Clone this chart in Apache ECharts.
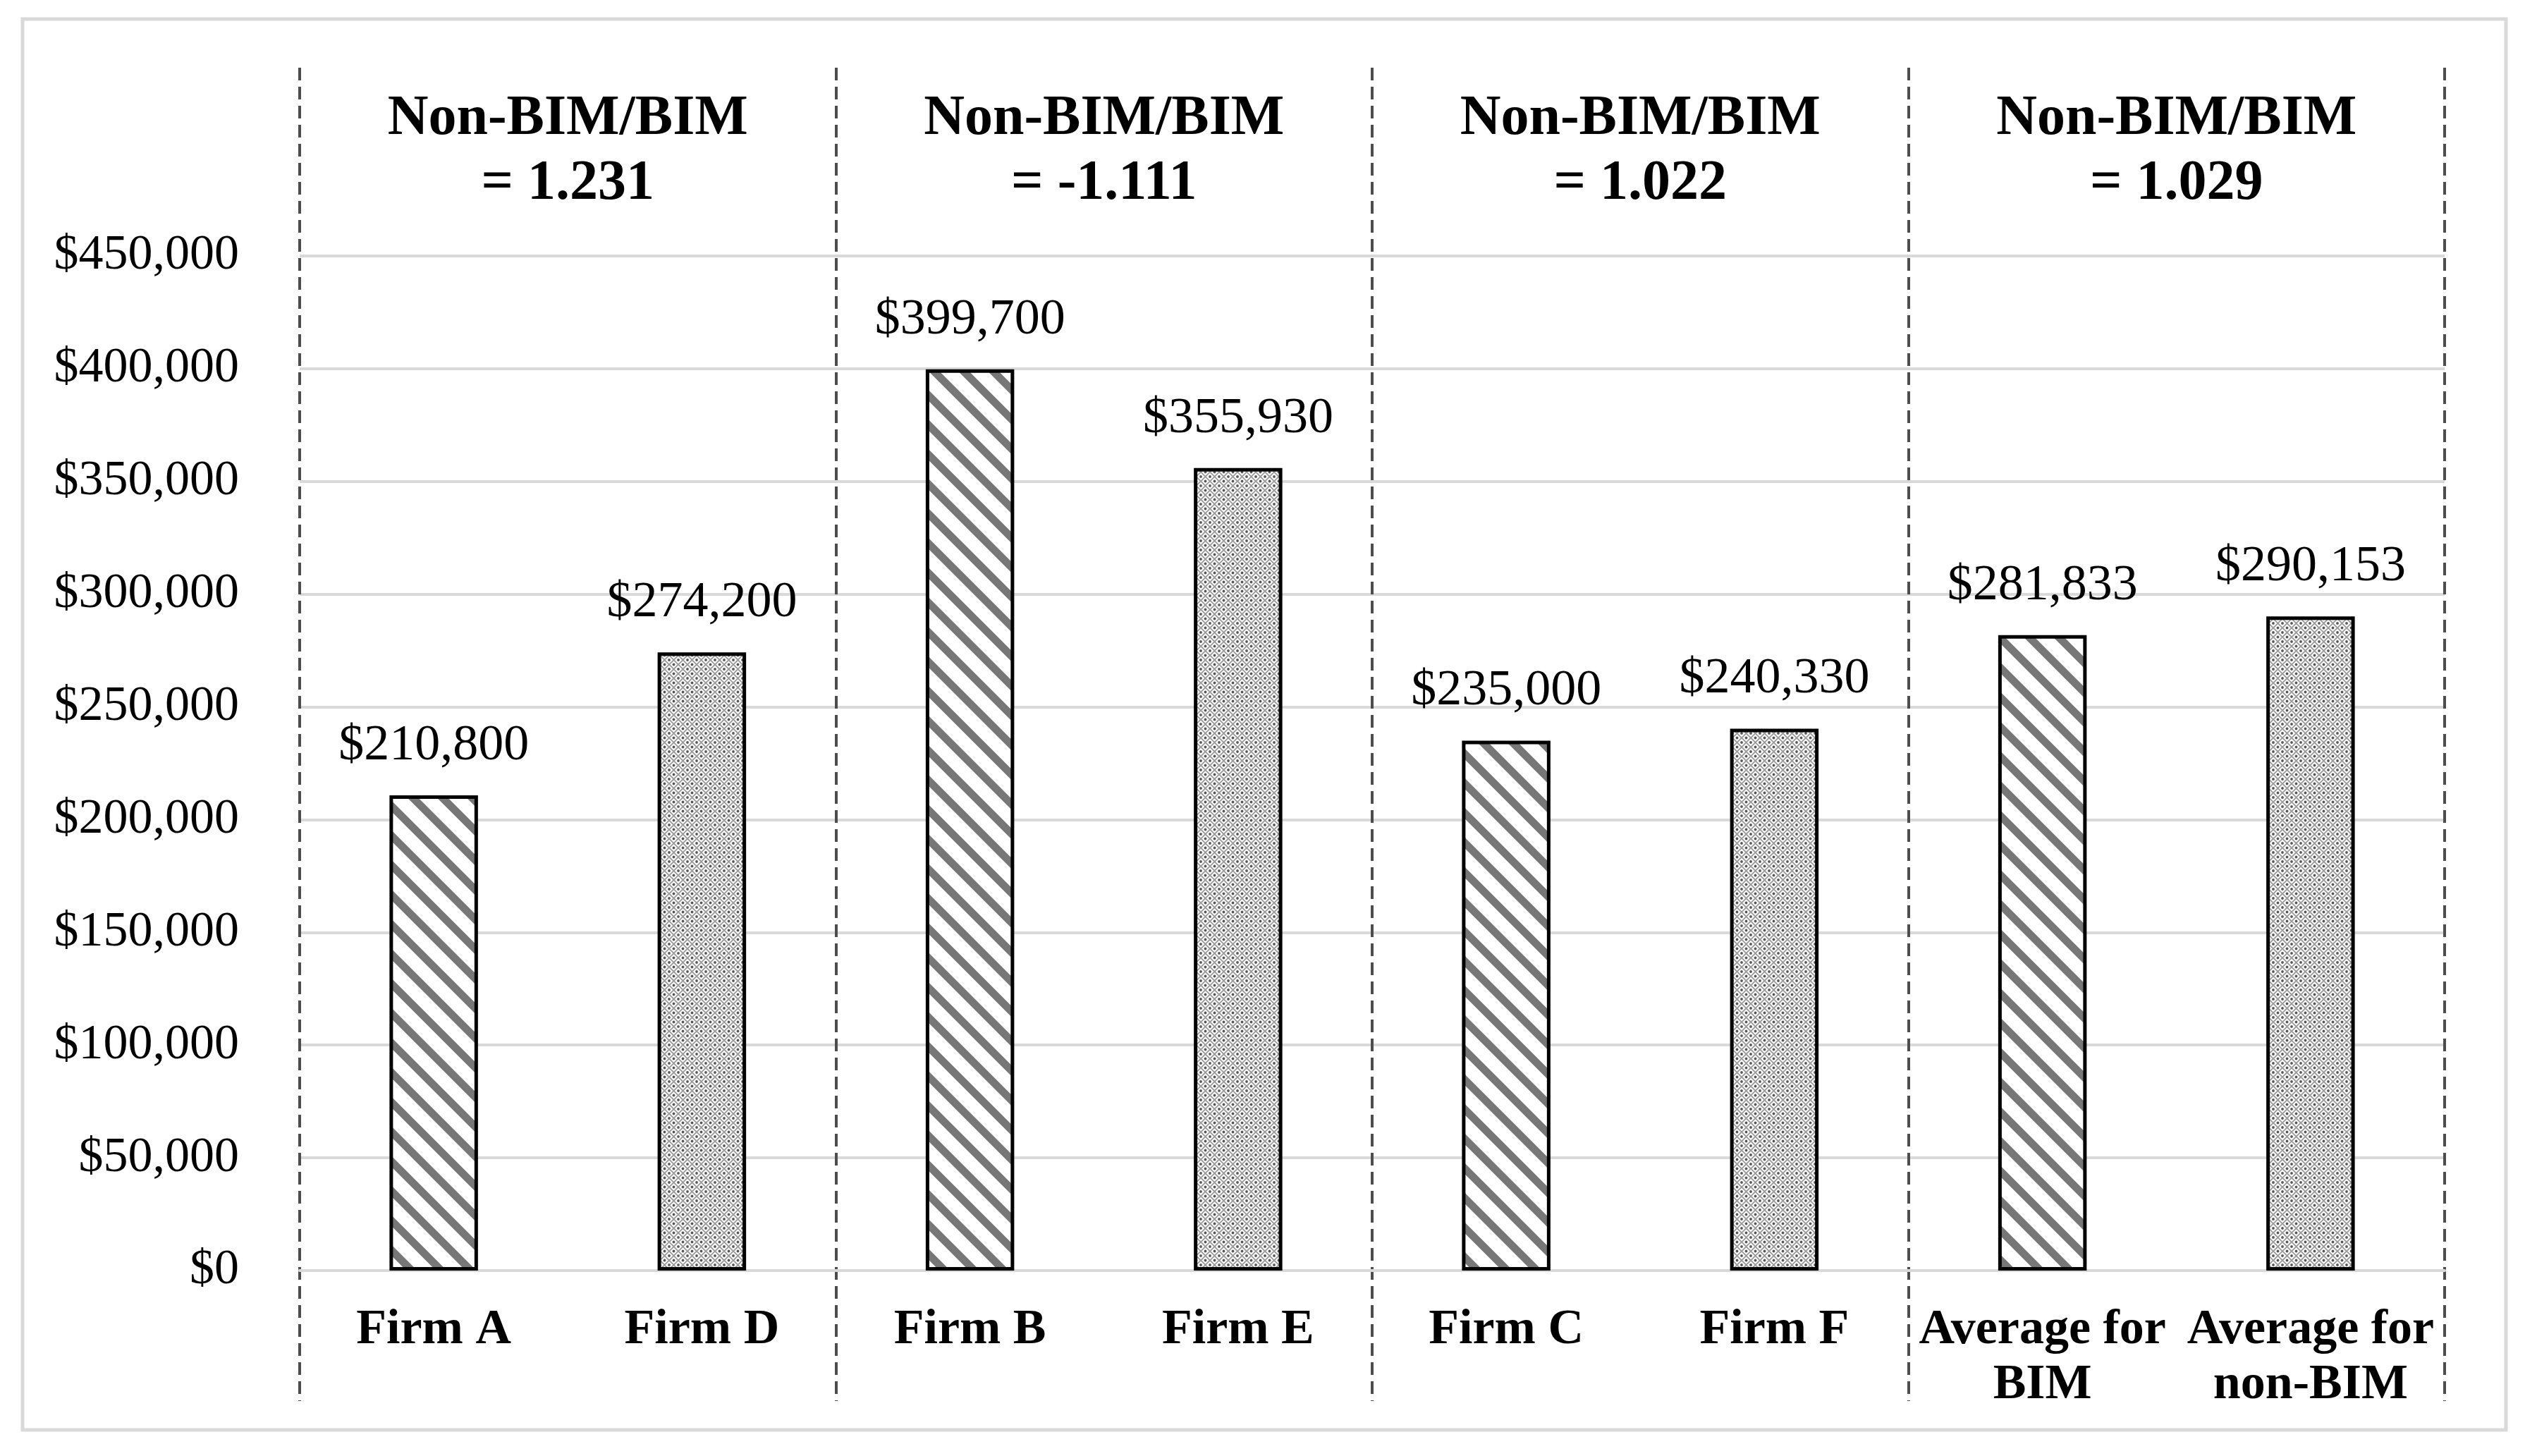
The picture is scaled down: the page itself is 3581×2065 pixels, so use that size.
<!DOCTYPE html>
<html>
<head>
<meta charset="utf-8">
<title>Non-BIM vs BIM cost</title>
<script src="https://cdn.jsdelivr.net/npm/echarts@6/dist/echarts.min.js"></script>
<style>
  html, body { margin: 0; padding: 0; background: #fff; }
  #main { width: 3581px; height: 2065px; }
</style>
</head>
<body>
<div id="main"></div>
<script>
// data
var firms = ['Firm A', 'Firm D', 'Firm B', 'Firm E', 'Firm C', 'Firm F', 'Average for\nBIM', 'Average for\nnon-BIM'];
var costs = [210800, 274200, 399700, 355930, 235000, 240330, 281833, 290153];
var isBim = [true, false, true, false, true, false, true, false];
var ratios = ['1.231', '-1.111', '1.022', '1.029'];
var yTicks = { min: 0, max: 450000, step: 50000 };

var FONT = "'Liberation Serif', 'Times New Roman', serif";

// hatch for BIM bars (grey diagonal stripes)
function stripeTile() {
  var c = document.createElement('canvas');
  c.width = 42; c.height = 42;
  var g = c.getContext('2d');
  g.fillStyle = '#fff';
  g.fillRect(0, 0, 42, 42);
  g.strokeStyle = '#777777';
  g.lineWidth = 11;
  g.lineCap = 'square';
  for (var k = -1; k <= 1; k++) {
    g.beginPath();
    g.moveTo(-10 + k * 42, -10);
    g.lineTo(52 + k * 42, 52);
    g.stroke();
  }
  return c;
}

// dotted diamond for non-BIM bars
function dotTile() {
  var c = document.createElement('canvas');
  c.width = 13; c.height = 13;
  var g = c.getContext('2d');
  g.fillStyle = '#fff';
  g.fillRect(0, 0, 13, 13);
  g.strokeStyle = '#9c9c9c';
  g.lineWidth = 1.8;
  g.beginPath();
  g.moveTo(0, 6.5); g.lineTo(6.5, 0); g.lineTo(13, 6.5); g.lineTo(6.5, 13); g.closePath();
  g.stroke();
  g.fillStyle = '#585858';
  [[0, 0], [13, 0], [0, 13], [13, 13], [6.5, 6.5]].forEach(function (p) {
    g.beginPath();
    g.arc(p[0], p[1], 1.9, 0, Math.PI * 2);
    g.fill();
  });
  return c;
}

var stripes = { image: stripeTile(), repeat: 'repeat' };
var dots = { image: dotTile(), repeat: 'repeat' };

var groupLabels = ratios.map(function (r) { return 'Non-BIM/BIM\n= ' + r; });

var barData = costs.map(function (v, i) {
  return {
    value: v,
    itemStyle: { color: isBim[i] ? stripes : dots }
  };
});

var chart = echarts.init(document.getElementById('main'), null, { renderer: 'canvas' });

var option = {
  backgroundColor: '#ffffff',
  animation: false,
  textStyle: { fontFamily: FONT },
  graphic: [{
    type: 'rect',
    shape: { x: 32, y: 27, width: 3522, height: 2001 },
    style: { fill: 'none', stroke: '#d9d9d9', lineWidth: 5 },
    silent: true
  }],
  grid: [
    { left: 425, right: 114, top: 363, bottom: 263 },
    { left: 425, right: 114, top: 96, bottom: 78 }
  ],
  xAxis: [{
    type: 'category',
    gridIndex: 0,
    data: firms,
    axisLine: { show: true, lineStyle: { color: '#d9d9d9', width: 4 } },
    axisTick: { show: false },
    axisLabel: {
      interval: 0,
      margin: 46,
      color: '#000',
      fontFamily: FONT,
      fontWeight: 'bold',
      fontSize: 70,
      lineHeight: 78
    }
  }, {
    type: 'category',
    gridIndex: 1,
    position: 'top',
    data: groupLabels,
    axisLine: { show: false },
    axisTick: { show: false },
    axisLabel: {
      inside: true,
      interval: 0,
      margin: 27,
      color: '#000',
      fontFamily: FONT,
      fontWeight: 'bold',
      fontSize: 80,
      lineHeight: 92
    },
    splitLine: {
      show: true,
      interval: 0,
      lineStyle: { color: '#4d4d4d', width: 4, type: [18, 9] }
    }
  }],
  yAxis: [{
    type: 'value',
    gridIndex: 0,
    min: yTicks.min,
    max: yTicks.max,
    interval: yTicks.step,
    axisLine: { show: false },
    axisTick: { show: false },
    splitLine: { lineStyle: { color: '#d9d9d9', width: 4 } },
    axisLabel: {
      margin: 86,
      color: '#000',
      fontFamily: FONT,
      fontSize: 70,
      formatter: function (v) { return '$' + v.toLocaleString('en-US'); }
    }
  }, {
    type: 'value',
    gridIndex: 1,
    min: 0,
    max: 1,
    show: false
  }],
  series: [{
    type: 'bar',
    xAxisIndex: 0,
    yAxisIndex: 0,
    data: barData,
    barWidth: '33%',
    itemStyle: { borderColor: '#000', borderWidth: 5 },
    label: {
      show: true,
      position: 'top',
      distance: 34,
      color: '#000',
      fontFamily: FONT,
      fontSize: 72,
      formatter: function (p) { return '$' + p.value.toLocaleString('en-US'); }
    }
  }]
};

chart.setOption(option);
</script>
</body>
</html>
